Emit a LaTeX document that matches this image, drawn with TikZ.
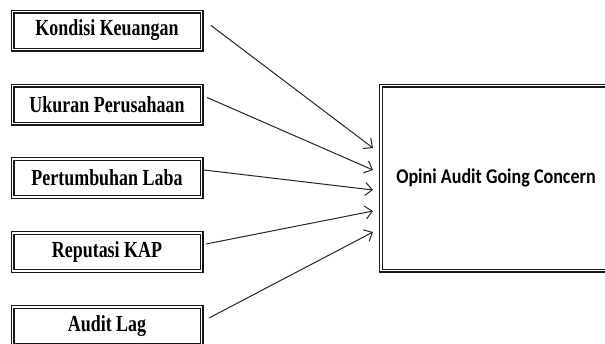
\documentclass[tikz,border=0pt]{standalone}
\usepackage{fontspec}
\usepackage{tikz}
\usetikzlibrary{arrows.meta,calc,positioning}
\newfontfamily\varfont{Liberation Serif}[FakeStretch=0.78]
\newfontfamily\resfont{Carlito}[FakeStretch=0.86]

\begin{document}
\begin{tikzpicture}[x=1pt,y=-1pt,
    varbox/.style={draw=black!90, double, double distance=1.8pt, line width=1.1pt,
      minimum width=189pt, minimum height=38pt, inner sep=0pt,
      font=\varfont\bfseries\fontsize{23}{25}\selectfont},
    resbox/.style={draw=black!90, double, double distance=1.8pt, line width=1.1pt,
      inner sep=0pt},
    link/.style={draw=black!85, line width=1pt, -{Straight Barb[length=7pt,width=13pt,line width=1pt]}}]
            \useasboundingbox (0,0) rectangle (605,343);
            % Define boxes
            \node[varbox] (kk) at (107,30.5) {Kondisi Keuangan};
            \node[varbox] (up) at (107,104.5) {Ukuran Perusahaan};
            \node[varbox] (pl) at (107,178) {Pertumbuhan Laba};
            \node[varbox] (rk) at (107,252) {Reputasi KAP};
            \node[varbox] (al) at (107,326) {Audit Lag};
            \node[resbox, minimum width=232pt, minimum height=185pt] (ogc) at (497,178) {};
            \node[font=\resfont\bfseries\fontsize{21}{23}\selectfont] (txt) at (496,178) {Opini Audit Going Concern};
            % Arrow ends
            \coordinate (e1) at (373,148);
            \coordinate (e2) at (373,170);
            \coordinate (e3) at (373,190);
            \coordinate (e4) at (373,211);
            \coordinate (e5) at (373,232);
            % Connect
            \draw[link] ([xshift=9pt,yshift=5pt]kk.east) -- (e1);
            \draw[link] ([xshift=5pt,yshift=7pt]up.east) -- (e2);
            \draw[link] ([xshift=2pt,yshift=8pt]pl.east) -- (e3);
            \draw[link] ([xshift=4pt,yshift=8pt]rk.east) -- (e4);
            \draw[link] ([xshift=7pt,yshift=8pt]al.east) -- (e5);
          \end{tikzpicture}
\end{document}
